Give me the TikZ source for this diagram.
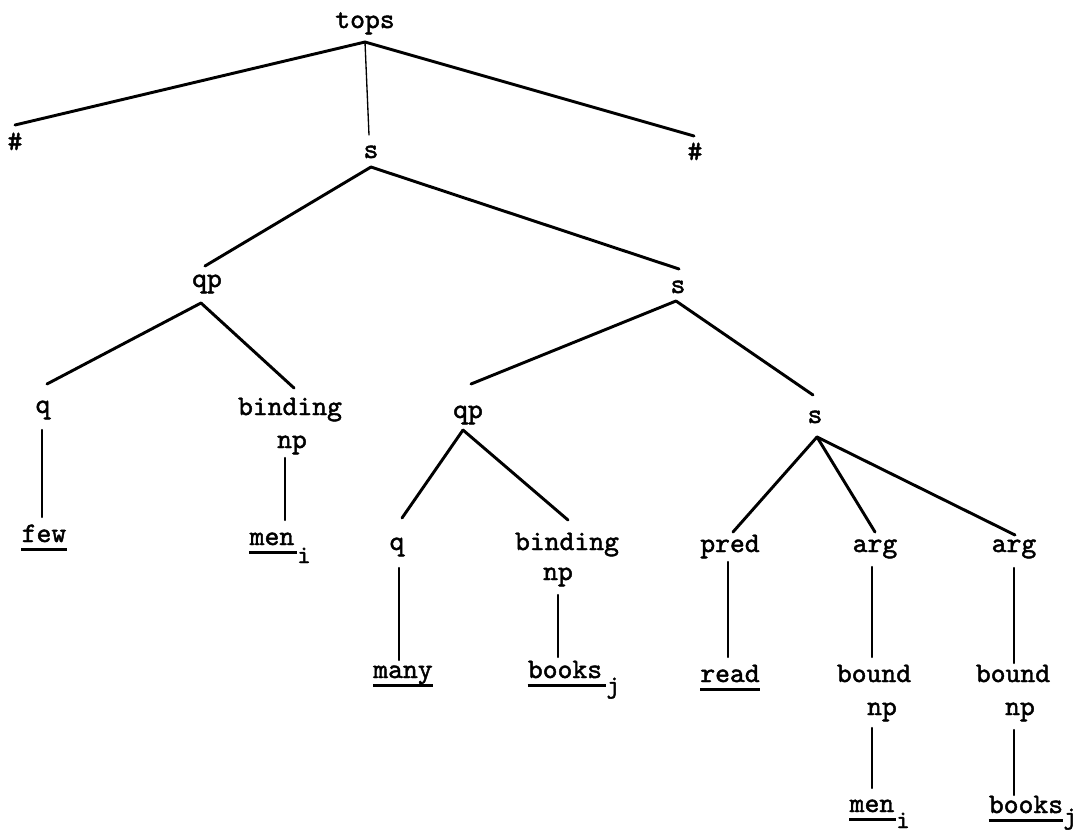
\documentclass[tikz,border=0pt]{standalone}
\usepackage{fontspec}
\newfontfamily\twfont{lmmono10-regular}[Extension=.otf,FakeBold=1.6]
\begin{document}
\begin{tikzpicture}[x=0.75pt,y=-0.75pt,
  lbl/.style={anchor=base,inner sep=0pt,font=\twfont\fontsize{21.2}{24}\selectfont},
  sublbl/.style={anchor=base,inner sep=0pt,font=\twfont\fontsize{19}{22}\selectfont},
  edge/.style={line width=2.2pt,line cap=round},
  stem/.style={line width=1.8pt,line cap=round},
  thinstem/.style={line width=1pt,line cap=round},
  uline/.style={line width=2pt}]
\useasboundingbox (0,0) rectangle (1076,833);
% ---------- nodes ----------
\node[lbl] (tops) at (365,28) {tops};
\node[lbl] (hashL) at (15,150) {\#};
\node[lbl] (hashR) at (695,160) {\#};
\node[lbl] (s1) at (371,158) {s};
\node[lbl] (qp1) at (207,287) {qp};
\node[lbl] (s2) at (678,293) {s};
\node[lbl] (q1) at (43,413) {q};
\node[lbl] (bind1) at (290,415) {binding};
\node[lbl] (np1) at (292,448) {np};
\node[lbl] (few) at (44,542) {few};
\node[lbl] (men1) at (272,545) {men};
\node[sublbl] (i1) at (304,563) {i};
\node[lbl] (qp2) at (468,418) {qp};
\node[lbl] (s3) at (815,423) {s};
\node[lbl] (q2) at (397,550) {q};
\node[lbl] (bind2) at (567,550) {binding};
\node[lbl] (np2) at (558,580) {np};
\node[lbl] (many) at (403,678) {many};
\node[lbl] (books2) at (565,678) {books};
\node[sublbl] (j2) at (613,693) {j};
\node[lbl] (pred) at (730,552) {pred};
\node[lbl] (arg1) at (875,552) {arg};
\node[lbl] (arg2) at (1014,552) {arg};
\node[lbl] (read) at (730,682) {read};
\node[lbl] (bound1) at (874,682) {bound};
\node[lbl] (np3) at (882,715) {np};
\node[lbl] (men3) at (872,812) {men};
\node[sublbl] (i3) at (903,828) {i};
\node[lbl] (bound2) at (1013,682) {bound};
\node[lbl] (np4) at (1020,715) {np};
\node[lbl] (books3) at (1026,813) {books};
\node[sublbl] (j3) at (1070,824) {j};
% ---------- attachment points ----------
\coordinate (topsB) at (365,42);
\coordinate (hashLT) at (15,125);
\coordinate (hashRT) at (694,136);
\coordinate (s1T) at (369,135);
\coordinate (s1B) at (371,167);
\coordinate (qp1T) at (205,266);
\coordinate (qp1B) at (201,303);
\coordinate (s2T) at (679,269);
\coordinate (s2B) at (676,301);
\coordinate (q1T) at (47,384);
\coordinate (q1B) at (42,430);
\coordinate (bind1T) at (294,388);
\coordinate (np1B) at (285,458);
\coordinate (fewT) at (42,517);
\coordinate (men1T) at (285,520);
\coordinate (qp2T) at (471,384);
\coordinate (qp2B) at (463,430);
\coordinate (s3T) at (813,395);
\coordinate (s3B) at (817,437);
\coordinate (q2T) at (402,518);
\coordinate (q2B) at (399,568);
\coordinate (bind2T) at (568,520);
\coordinate (np2B) at (558,595);
\coordinate (manyT) at (399,660);
\coordinate (books2T) at (558,657);
\coordinate (predT) at (733,532);
\coordinate (predB) at (728,562);
\coordinate (arg1T) at (875,532);
\coordinate (arg1B) at (872,567);
\coordinate (arg2T) at (1015,535);
\coordinate (arg2B) at (1014,568);
\coordinate (readT) at (728,657);
\coordinate (bound1T) at (872,657);
\coordinate (np3B) at (872,728);
\coordinate (men3T) at (872,788);
\coordinate (bound2T) at (1014,663);
\coordinate (np4B) at (1014,730);
\coordinate (books3T) at (1014,795);
% ---------- branches ----------
\draw[edge] (topsB) -- (hashLT);
\draw[edge] (topsB) -- (hashRT);
\draw[thinstem] (topsB) -- (s1T);
\draw[edge] (s1B) -- (qp1T);
\draw[edge] (s1B) -- (s2T);
\draw[edge] (qp1B) -- (q1T);
\draw[edge] (qp1B) -- (bind1T);
\draw[stem] (q1B) -- (fewT);
\draw[stem] (np1B) -- (men1T);
\draw[edge] (s2B) -- (qp2T);
\draw[edge] (s2B) -- (s3T);
\draw[edge] (qp2B) -- (q2T);
\draw[edge] (qp2B) -- (bind2T);
\draw[stem] (q2B) -- (manyT);
\draw[stem] (np2B) -- (books2T);
\draw[edge] (s3B) -- (predT);
\draw[edge] (s3B) -- (arg1T);
\draw[edge] (s3B) -- (arg2T);
\draw[stem] (predB) -- (readT);
\draw[stem] (arg1B) -- (bound1T);
\draw[stem] (np3B) -- (men3T);
\draw[stem] (arg2B) -- (bound2T);
\draw[stem] (np4B) -- (books3T);
% ---------- underlines ----------
\draw[uline] ([yshift=-5.5pt]few.base west) -- ([yshift=-5.5pt]few.base east);
\draw[uline] ([yshift=-5.5pt]men1.base west) -- ([yshift=-5.5pt]i1.west |- men1.base);
\draw[uline] ([yshift=-5.5pt]many.base west) -- ([yshift=-5.5pt]many.base east);
\draw[uline] ([yshift=-5.5pt]books2.base west) -- ([yshift=-5.5pt]j2.west |- books2.base);
\draw[uline] ([yshift=-5.5pt]read.base west) -- ([yshift=-5.5pt]read.base east);
\draw[uline] ([yshift=-5.5pt]men3.base west) -- ([yshift=-5.5pt]i3.west |- men3.base);
\draw[uline] ([yshift=-5.5pt]books3.base west) -- ([yshift=-5.5pt]j3.west |- books3.base);
\end{tikzpicture}
\end{document}
